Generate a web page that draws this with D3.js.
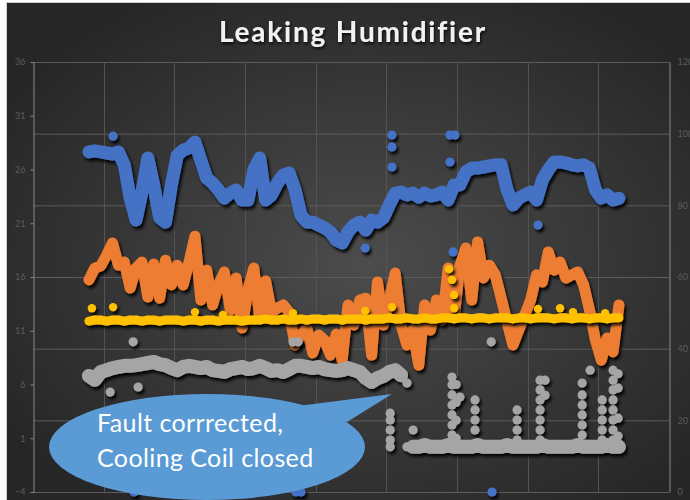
<!DOCTYPE html>
<html>
<head>
<meta charset="utf-8">
<script src="https://cdn.jsdelivr.net/npm/d3@7"></script>
<style>
body { margin: 0; background: #fff; }
svg { display: block; font-family: Lato, "Open Sans", sans-serif; }
</style>
</head>
<body>
<svg width="690" height="500"></svg>
<script>
// sample times (hours from start of the 9 day window)
const hours = [19,21,23,25,27,29,31,33,35,37,39,41,43,45,47,49,51,53,55,57,
	59,61,63,65,67,69,71,73,75,77,79,81,83,85,87,89,91,93,95,97,
	99,101,103,105,107,109,111,113,115,117,119,121,123,125,127,129,131,133,135,137,
	139,141,143,145,147,149,151,153,155,157,159,161,163,165,167,169,171,173,175,177,
	179,181,183,185,187,189,191,193,195,197,199]

// all series read against the right axis (0-120)
const blueVals = [94.9,95.2,94.9,94.6,94.3,94.9,91.3,82.0,75.9,83.7,
	93.2,85.7,76.5,75.3,85.7,94.0,95.4,96.0,97.7,92.6,
	87.6,86.2,84.3,82.0,83.4,84.3,81.5,81.5,89.9,93.2,
	81.5,82.9,86.2,88.5,89.0,84.3,77.3,75.3,75.3,74.5,
	73.7,72.6,70.3,69.5,72.6,74.5,75.3,73.1,75.9,75.3,
	76.5,80.1,83.4,83.7,82.9,83.4,82.3,83.4,82.6,82.9,
	83.7,81.5,85.7,85.7,89.3,90.4,90.4,90.7,91.0,91.3,
	91.3,84.3,80.1,82.0,82.9,83.7,81.5,87.1,89.9,92.1,
	92.1,91.8,91.3,91.0,91.3,90.4,84.3,82.0,82.9,81.5,82.0]

const orangeVals = [59.2,62.5,63.1,66.1,69.5,63.3,64.2,56.9,62.5,64.2,
	54.4,63.6,54.1,64.7,57.8,63.3,57.8,64.2,71.4,53.6,
	61.9,52.2,57.8,61.4,50.8,59.7,45.8,56.4,62.5,48.6,
	58.9,50.2,51.3,52.2,50.2,41.0,43.8,45.8,38.8,43.8,
	42.4,38.2,44.1,36.8,52.2,46.6,53.6,54.1,38.2,58.6,
	46.6,53.6,61.1,46.6,41.0,45.2,35.4,52.2,45.2,53.6,
	48.0,62.5,48.6,63.3,68.1,53.6,69.8,59.7,63.3,60.6,
	54.1,47.4,41.0,45.2,49.4,53.6,60.6,58.6,67.0,61.9,
	64.2,59.7,60.6,61.4,57.8,50.8,42.4,36.8,43.0,39.1,52.2]

const grayVals = [32.4,31.3,33.5,34.0,34.6,34.9,35.2,35.2,35.4,35.7,
	36.0,36.3,35.7,35.4,34.6,34.0,34.9,35.2,34.9,34.6,
	34.9,34.0,33.8,33.5,34.3,34.6,34.9,34.3,34.6,35.2,
	34.6,33.8,34.0,33.5,34.3,35.2,35.2,34.9,34.6,34.9,
	34.3,34.0,33.8,34.0,34.6,34.0,33.5,31.8,30.7,31.8,
	32.4,33.5,34.0,32.6,null,12.6,12.6,13.1,12.6,12.6,
	12.6,13.1,12.6,12.6,12.6,12.6,13.1,12.6,12.6,12.6,
	12.6,13.1,12.6,12.6,12.6,12.6,12.6,13.1,12.6,12.6,
	12.6,12.6,12.6,13.1,12.6,12.6,12.6,12.6,13.1,12.6,12.6]

const yellowVals = [47.7,48.0,48.0,47.7,48.0,48.0,47.7,48.0,48.0,47.7,
	48.0,48.0,47.7,48.0,48.0,48.0,47.7,48.0,48.0,47.7,
	48.0,48.0,47.7,48.0,48.0,48.0,47.7,48.0,48.0,48.0,
	48.3,48.0,48.0,48.3,48.0,48.0,48.3,48.0,48.3,48.3,
	48.0,48.3,48.3,48.0,48.3,48.3,48.3,48.0,48.3,48.3,
	48.3,48.6,48.3,48.3,48.6,48.3,48.3,48.6,48.3,48.3,
	48.6,48.6,48.3,48.6,48.6,48.3,48.6,48.6,48.3,48.6,
	48.6,48.6,48.3,48.6,48.6,48.3,48.6,48.6,48.6,48.3,
	48.6,48.6,48.3,48.6,48.6,48.3,48.6,48.6,48.3,48.6,48.6]

// stray readings [hour, value]
const blueStray = [[27.2,99.3],[121.9,99.6],[121.9,96.3],[121.9,90.7],[141.6,99.6],[143.3,99.6],
	[141.6,92.1],[171.5,74.5],[142.7,67.0],[143.0,58.9],[143.3,56.9],[112.8,68.1],
	[34.3,0],[89.3,0],[91.0,0],[155.9,0]]
const yellowStray = [[20.0,51.3],[27.2,51.6],[55.0,50.2],[64.5,49.4],[88.3,49.9],[112.8,50.5],
	[121.9,51.6],[141.3,62.2],[142.3,59.2],[143.0,55.0],[143.0,51.3],[171.5,51.1],
	[179.0,51.3],[183.4,50.2],[194.3,49.9]]
const grayStray = [[34.0,41.9],[88.3,41.9],[90.0,41.9],[155.6,41.9],[26.2,27.9],[35.7,29.3],
	[121.3,22.0],[121.3,20.1],[121.3,17.3],[121.3,14.5],[121.3,12.6],
	[127,30.4],[127,12.6],[129.1,17.3],
	[142.3,32.1],[142.3,29.9],[142.3,27.1],[142.3,24.3],[142.3,21.5],[142.3,18.7],[142.3,15.9],
	[143.7,30.0],[143.7,25.0],[143.7,20.0],[143.7,15.0],[145.0,26.5],
	[150.1,25.7],[150.1,22.9],[150.1,20.1],[150.1,17.3],
	[164.4,22.9],[164.4,20.1],[164.4,17.3],[164.4,14.5],
	[172.2,31.2],[172.2,28.5],[172.2,25.7],[172.2,22.9],[172.2,20.1],[172.2,17.3],[172.2,14.5],
	[173.9,31.2],[173.9,27.0],
	[186.5,30.4],[186.5,27.1],[186.5,24.3],[186.5,21.5],[186.5,18.7],[186.5,15.9],
	[189.2,34.0],
	[193.3,25.7],[193.3,22.9],[193.3,20.1],[193.3,17.3],[193.3,14.5],
	[197.0,34.0],[197.0,31.2],[197.0,28.5],[197.0,25.7],[197.0,22.9],[197.0,20.1],[197.0,17.3],[197.0,14.5],
	[198.7,33.0],[198.7,29.0],[198.7,20.6],[198.7,15.6],[198.7,12.6]]

const leftTicks = [-4,1,6,11,16,21,26,31,36]
const rightTicks = [0,20,40,60,80,100,120]
const dayTicks = [24,48,72,96,120,144,168,192]

const width = 690, height = 500

const svg = d3.select('svg')
const defs = svg.append('defs')

const bg = defs.append('radialGradient').attr('id', 'bg')
	.attr('cx', '52%').attr('cy', '52%').attr('r', '62%')
bg.append('stop').attr('offset', '0%').attr('stop-color', '#4c4c4c')
bg.append('stop').attr('offset', '100%').attr('stop-color', '#262626')

const shadow = defs.append('filter').attr('id', 'shadow')
	.attr('x', '-10%').attr('y', '-10%').attr('width', '130%').attr('height', '130%')
shadow.append('feDropShadow').attr('dx', 2).attr('dy', 3).attr('stdDeviation', 1.6)
	.attr('flood-color', '#000').attr('flood-opacity', 0.9)

const tshadow = defs.append('filter').attr('id', 'tshadow')
tshadow.append('feDropShadow').attr('dx', 1).attr('dy', 2).attr('stdDeviation', 1.5)
	.attr('flood-color', '#000').attr('flood-opacity', 0.8)

// chart frame
svg.append('rect')
	.attr('x', 6.5).attr('y', 2.5)
	.attr('width', width).attr('height', height)
	.attr('fill', 'url(#bg)')
	.attr('stroke', '#cfcfcf')

const x = d3.scaleLinear().domain([0, 216]).range([33, 669])
const yR = d3.scaleLinear().domain([0, 120]).range([492, 62])
const yL = d3.scaleLinear().domain([-4, 36]).range([492, 62])

// gridlines
svg.append('g').selectAll('line')
	.data(rightTicks)
	.join('line')
	.attr('x1', 33).attr('x2', 669)
	.attr('y1', d => yR(d) + 0.5).attr('y2', d => yR(d) + 0.5)
	.attr('stroke', '#5c5c5c')

svg.append('g').selectAll('line')
	.data(dayTicks)
	.join('line')
	.attr('x1', d => Math.round(x(d)) + 0.5).attr('x2', d => Math.round(x(d)) + 0.5)
	.attr('y1', 62).attr('y2', 492)
	.attr('stroke', '#535353')

// axes
const leftAxis = svg.append('g')
	.attr('transform', 'translate(33.5,0)')
	.call(d3.axisLeft(yL).tickValues(leftTicks).tickSize(3).tickSizeOuter(0).tickPadding(5))
const rightAxis = svg.append('g')
	.attr('transform', 'translate(669.5,0)')
	.call(d3.axisRight(yR).tickValues(rightTicks).tickSize(0).tickPadding(8))

for (const a of [leftAxis, rightAxis]) {
	a.select('.domain').attr('stroke', '#8a8a8a')
	a.selectAll('.tick line').attr('stroke', '#8a8a8a')
	a.selectAll('text')
		.attr('fill', '#5c5c5c')
		.style('font-size', '9px')
		.style('font-family', 'Lato, sans-serif')
}

const plot = svg.append('g')

const drawSeries = (vals, stray, color, lineW, r) => {
	const g = plot.append('g').attr('filter', 'url(#shadow)')
	const line = d3.line()
		.defined(d => d != null)
		.x((d, i) => x(hours[i]))
		.y(d => yR(d))

	g.append('path')
		.datum(vals)
		.attr('d', line)
		.attr('fill', 'none')
		.attr('stroke', color)
		.attr('stroke-width', lineW)
		.attr('stroke-linejoin', 'round')
		.attr('stroke-linecap', 'round')

	let pts = vals.map((v, i) => [hours[i], v]).filter(d => d[1] != null)
	pts = pts.concat(stray)

	g.selectAll('circle')
		.data(pts)
		.join('circle')
		.attr('cx', d => x(d[0]))
		.attr('cy', d => yR(d[1]))
		.attr('r', r)
		.attr('fill', color)
}

drawSeries(blueVals, blueStray, '#4472C4', 13, 4.6)
drawSeries(orangeVals, [], '#ED7D31', 11, 4.6)
drawSeries(grayVals, grayStray, '#A5A5A5', 14, 4.6)
drawSeries(yellowVals, yellowStray, '#FFC000', 9, 4.2)

// title
svg.append('text')
	.attr('x', 353).attr('y', 42)
	.attr('text-anchor', 'middle')
	.attr('fill', '#f2f2f2')
	.attr('filter', 'url(#tshadow)')
	.style('font-size', '28px')
	.style('font-weight', 'bold')
	.style('letter-spacing', '1.8px')
	.text('Leaking Humidifier')

// callout bubble
const callout = svg.append('g')
callout.append('ellipse')
	.attr('cx', 207).attr('cy', 447)
	.attr('rx', 158).attr('ry', 53)
	.attr('fill', '#5B9BD5')
callout.append('path')
	.attr('d', 'M298,406 L392,394 L347,422 Z')
	.attr('fill', '#5B9BD5')

callout.selectAll('text')
	.data(['Fault corrrected,', 'Cooling Coil closed'])
	.join('text')
	.attr('x', 97)
	.attr('y', (d, i) => 432 + i * 35)
	.attr('fill', '#fff')
	.style('font-size', '25px')
	.style('letter-spacing', '0.4px')
	.text(d => d)
</script>
</body>
</html>
